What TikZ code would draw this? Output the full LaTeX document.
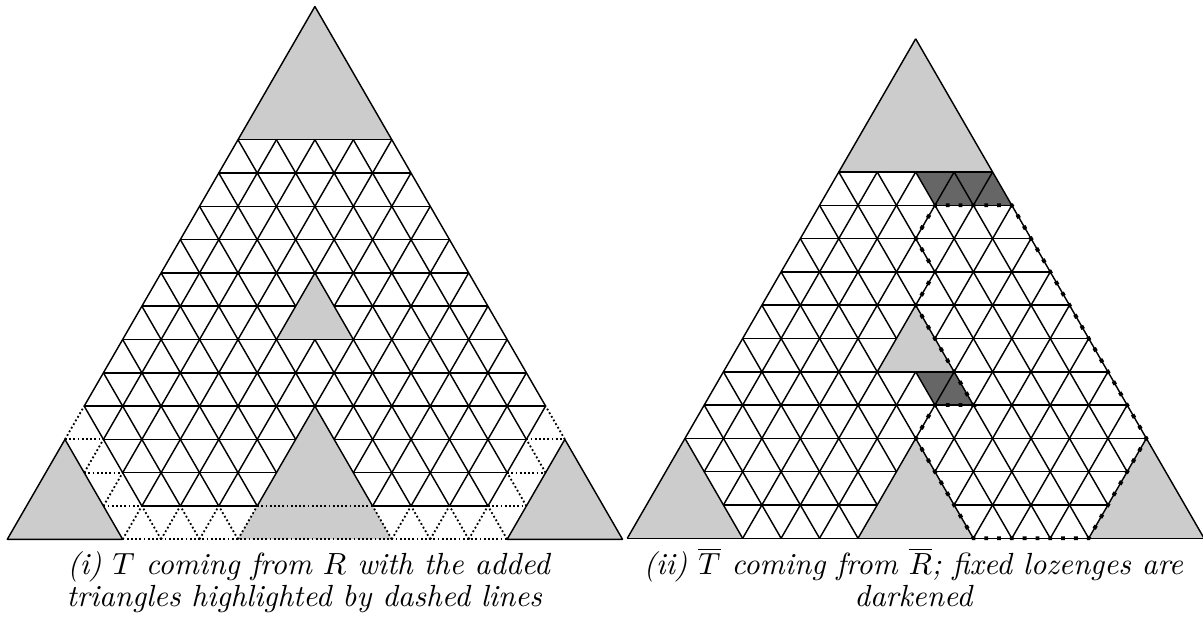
\documentclass[tikz,border=0pt]{standalone}
\begin{document}
\begin{tikzpicture}[
  lat/.style={line width=0.72pt, line join=round},
  dotl/.style={line width=0.9pt, dash pattern=on 0.9pt off 1.2pt},
  dotr/.style={line width=1.9pt, dash pattern=on 1.9pt off 4.5083pt, dash phase=0.95pt},
  grayfill/.style={fill=black!20},
  darkfill/.style={fill=black!60},
  captext/.style={anchor=base, inner sep=0pt, scale=1.53, transform shape, font=\fontsize{10}{12}\selectfont\itshape}
]
\useasboundingbox (0pt,0pt) rectangle (601.5pt,312.5pt);

% ---------- left picture ----------
\begin{scope}[shift={(3.65pt,42.85pt)}, x={(19.225pt,0pt)}, y={(9.6125pt,16.6494pt)}]
  \fill[grayfill] (0,12)--(4,12)--(0,16)--cycle;
  \fill[grayfill] (0,0)--(3,0)--(0,3)--cycle;
  \fill[grayfill] (13,0)--(16,0)--(13,3)--cycle;
  \fill[grayfill] (6,0)--(10,0)--(6,4)--cycle;
  \fill[grayfill] (4,6)--(6,6)--(4,8)--cycle;
  \foreach \a/\b/\c/\d in {3/0/13/0, 2/1/3/1, 6/1/9/1, 12/1/13/1, 1/2/2/2, 12/2/13/2, 0/3/1/3, 12/3/13/3,
     0/3/0/4, 1/2/1/3, 2/1/2/2, 3/0/3/1, 4/0/4/1, 5/0/5/1, 6/0/6/1, 10/0/10/1, 11/0/11/1, 12/0/12/1,
     4/0/3/1, 5/0/4/1, 6/0/5/1, 10/0/9/1, 11/0/10/1, 12/0/11/1, 13/0/12/1, 13/1/12/2, 13/2/12/3, 13/3/12/4}
    \draw[dotl] (\a,\b) -- (\c,\d);
  \foreach \a/\b/\c/\d in {3/1/6/1, 9/1/12/1, 2/2/6/2, 8/2/12/2, 1/3/6/3, 7/3/12/3, 0/4/12/4, 0/5/11/5,
     0/6/10/6, 0/7/4/7, 5/7/9/7, 0/8/8/8, 0/9/7/9, 0/10/6/10, 0/11/5/11, 0/12/4/12,
     1/3/1/12, 2/2/2/12, 3/1/3/12, 4/1/4/12, 5/1/5/6, 5/7/5/11, 6/1/6/10, 7/3/7/9, 8/2/8/8, 9/1/9/7,
     10/1/10/6, 11/1/11/5, 12/1/12/4,
     3/1/0/4, 4/1/0/5, 5/1/0/6, 6/1/0/7, 6/2/0/8, 6/3/0/9, 9/1/0/10, 10/1/5/6, 4/7/0/11, 11/1/0/12,
     12/1/1/12, 12/2/2/12, 12/3/3/12}
    \draw[lat] (\a,\b) -- (\c,\d);
  \draw[lat] (0,4) -- (0,16) -- (12,4);
  \draw[lat] (0,3) -- (0,0) -- (3,0) -- cycle;
  \draw[lat] (13,0) -- (16,0) -- (13,3) -- cycle;
\end{scope}

% ---------- right picture ----------
\begin{scope}[shift={(313.65pt,43.35pt)}, x={(19.225pt,0pt)}, y={(9.6125pt,16.6494pt)}]
  \fill[grayfill] (0,11)--(4,11)--(0,15)--cycle;
  \fill[grayfill] (0,0)--(3,0)--(0,3)--cycle;
  \fill[grayfill] (6,0)--(9,0)--(6,3)--cycle;
  \fill[grayfill] (12,0)--(15,0)--(12,3)--cycle;
  \fill[grayfill] (4,5)--(6,5)--(4,7)--cycle;
  \fill[darkfill] (3,10)--(5,10)--(4,11)--(2,11)--cycle;
  \fill[darkfill] (6,4)--(7,4)--(6,5)--(5,5)--cycle;
  \foreach \a/\b/\c/\d in {0/0/15/0, 2/1/6/1, 8/1/12/1, 1/2/6/2, 7/2/12/2, 0/3/12/3, 0/4/11/4, 0/5/10/5,
     0/6/4/6, 5/6/9/6, 0/7/8/7, 0/8/7/8, 0/9/6/9, 0/10/5/10, 0/11/4/11,
     0/0/0/15, 1/2/1/11, 2/1/2/11, 3/0/3/11, 4/0/4/11, 5/0/5/5, 5/6/5/10, 6/0/6/9, 7/2/7/8, 8/1/8/7,
     9/0/9/6, 10/0/10/5, 11/0/11/4, 12/0/12/3,
     3/0/0/3, 4/0/0/4, 5/0/0/5, 6/0/0/6, 6/1/0/7, 6/2/0/8, 9/0/0/9, 10/0/5/5, 4/6/0/10, 11/0/0/11,
     12/0/1/11, 12/1/2/11, 12/2/3/11, 15/0/0/15}
    \draw[lat] (\a,\b) -- (\c,\d);
  \draw[dotr] (3,10) -- (3,9) -- (4,8) -- (4,7) -- (7,4) -- (6,4) -- (6,3) -- (9,0) -- (12,0)
     -- (12,3) -- (5,10) -- cycle;
\end{scope}

% ---------- captions ----------
\node[captext] (c1a) at (154.25pt,25pt) {(i) $T$ coming from $R$ with the added};
\node[captext] (c1b) at (152.15pt,9.15pt) {triangles highlighted by dashed lines};
\node[captext] (c2a) at (456.65pt,25pt) {(ii) $\overline{T}$ coming from $\overline{R}$; fixed lozenges are};
\node[captext] (c2b) at (456.65pt,9.15pt) {darkened};
\end{tikzpicture}
\end{document}
